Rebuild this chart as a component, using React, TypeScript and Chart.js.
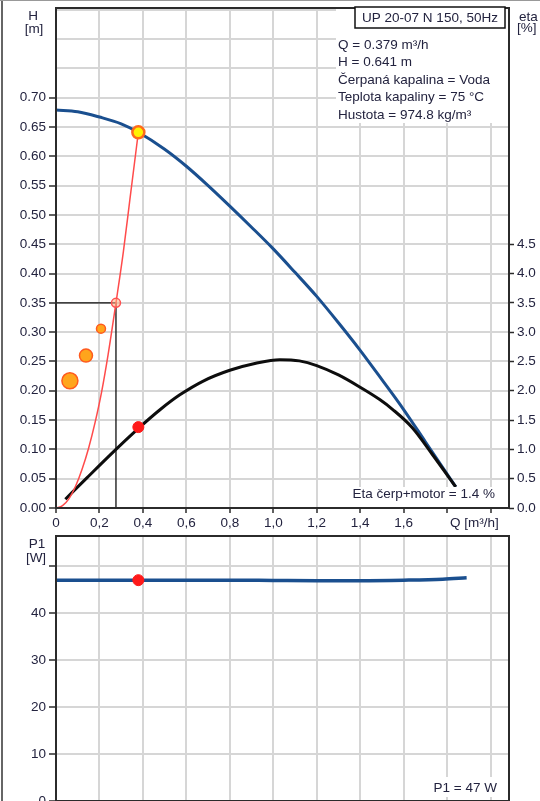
import React, { useEffect, useRef } from 'react';
import { Chart, registerables } from 'chart.js';

Chart.register(...registerables);

// ---------------- data ----------------
const pumpQ = [0, 0.1, 0.2, 0.3, 0.379, 0.5, 0.6, 0.7, 0.8, 0.9, 1.0, 1.1, 1.2, 1.3, 1.4, 1.5, 1.6, 1.7, 1.84];
const pumpH = [0.679, 0.676, 0.667, 0.6555, 0.641, 0.612, 0.583, 0.55, 0.515, 0.479, 0.442, 0.402, 0.361, 0.316, 0.269, 0.219, 0.168, 0.113, 0.036];

const etaQ = [0.043, 0.141, 0.276, 0.377, 0.48, 0.57, 0.68, 0.8, 0.92, 1.03, 1.12, 1.2, 1.3, 1.4, 1.49, 1.55, 1.64, 1.735, 1.84];
const etaPct = [0.15, 0.51, 1.0, 1.35, 1.68, 1.93, 2.17, 2.35, 2.47, 2.53, 2.51, 2.43, 2.27, 2.06, 1.85, 1.68, 1.37, 0.9, 0.36];

const sysQ = [0, 0.03, 0.06, 0.09, 0.12, 0.15, 0.18, 0.21, 0.24, 0.276, 0.31, 0.34, 0.379];
const sysH = [0, 0.004, 0.016, 0.037, 0.066, 0.102, 0.146, 0.198, 0.262, 0.35, 0.437, 0.526, 0.641];

const bubbleQ = [0.064, 0.138, 0.207, 0.276];
const bubbleH = [0.217, 0.26, 0.306, 0.35];

const dutyQ = 0.379;
const dutyH = 0.641;
const dutyEta = 1.38;
const dutyP1 = 47;
const readQ = 0.276;
const readH = 0.35;

const p1Q = [0, 0.4, 0.8, 1.0, 1.2, 1.4, 1.6, 1.78, 1.89];
const p1W = [47, 47, 47, 46.95, 46.9, 46.9, 47.0, 47.2, 47.5];

const qMax = 2.085;
const qStep = 0.2;
const qLabelMax = 1.6;
const hMax = 0.853;
const hStep = 0.05;
const hLabelMax = 0.7;
const etaMax = 8.53;
const etaStep = 0.5;
const etaLabelMax = 4.5;
const p1Max = 56.4;
const p1Step = 10;
const p1LabelMax = 40;

const modelLabel = 'UP 20-07 N 150, 50Hz';
const infoLines = [
  'Q = 0.379 m³/h',
  'H = 0.641 m',
  'Čerpaná kapalina = Voda',
  'Teplota kapaliny = 75 °C',
  'Hustota = 974.8 kg/m³',
];
const effLabel = 'Eta čerp+motor = 1.4 %';
const powerLabel = 'P1 = 47 W';
const qAxisLabel = 'Q [m³/h]';
const hAxisLabel = ['H', '[m]'];
const etaAxisLabel = ['eta', '[%]'];
const p1AxisLabel = ['P1', '[W]'];

// ---------------- style ----------------
const FAMILY = '"Liberation Sans", Arial, sans-serif';
const TEXT = '#23233f';
const GRID = '#d6d6d6';
const AXIS = '#2b2b2b';
const BLUE = '#1a4f8f';
const tickFont = { family: FAMILY, size: 13.5 };

const pts = (xs: number[], ys: number[]) => xs.map((x, i) => ({ x, y: ys[i] }));

const zeroPad = (s: any) => {
  s.paddingTop = 0;
  s.paddingBottom = 0;
  s.paddingLeft = 0;
  s.paddingRight = 0;
};

function frame(chart: any) {
  const { ctx, chartArea: a } = chart;
  ctx.save();
  ctx.strokeStyle = AXIS;
  ctx.lineWidth = 2;
  ctx.strokeRect(a.left, a.top, a.right - a.left, a.bottom - a.top);
  ctx.restore();
}

const topDecor = {
  id: 'topDecor',
  afterDraw(chart: any) {
    const { ctx, chartArea: a } = chart;
    ctx.save();
    ctx.font = `13.5px ${FAMILY}`;
    ctx.fillStyle = '#fff';
    ctx.fillRect(a.right - 173, a.top + 1, 172, 114);
    const ew = ctx.measureText(effLabel).width;
    ctx.fillRect(a.right - 14 - ew - 3, a.bottom - 21, ew + 6, 20);
    ctx.restore();

    frame(chart);

    ctx.save();
    ctx.font = `13.5px ${FAMILY}`;
    const bw = 150;
    const bh = 21;
    const bx = a.right - 4 - bw;
    const by = a.top - 1;
    ctx.fillStyle = '#fff';
    ctx.fillRect(bx, by, bw, bh);
    ctx.strokeStyle = '#111';
    ctx.lineWidth = 1.5;
    ctx.strokeRect(bx, by, bw, bh);
    ctx.fillStyle = TEXT;
    ctx.textAlign = 'center';
    ctx.textBaseline = 'middle';
    ctx.fillText(modelLabel, bx + bw / 2, by + bh / 2 + 1);

    ctx.textAlign = 'left';
    infoLines.forEach((t, i) => ctx.fillText(t, a.right - 171, a.top + 37 + i * 17.5));

    ctx.textAlign = 'right';
    ctx.textBaseline = 'alphabetic';
    ctx.fillText(effLabel, a.right - 14, a.bottom - 10);

    ctx.textAlign = 'center';
    ctx.textBaseline = 'middle';
    ctx.fillText(hAxisLabel[0], 33, a.top + 8);
    ctx.fillText(hAxisLabel[1], 34, a.top + 21);
    ctx.textAlign = 'left';
    ctx.fillText(etaAxisLabel[0], a.right + 10, a.top + 9);
    ctx.fillText(etaAxisLabel[1], a.right + 8, a.top + 20);

    const xs = chart.scales.x;
    ctx.fillText(qAxisLabel, xs.getPixelForValue(1.8) + 3, a.bottom + 15);
    ctx.restore();
  },
};

const botDecor = {
  id: 'botDecor',
  afterDraw(chart: any) {
    const { ctx, chartArea: a } = chart;
    ctx.save();
    ctx.font = `13.5px ${FAMILY}`;
    const pw = ctx.measureText(powerLabel).width;
    ctx.fillStyle = '#fff';
    ctx.fillRect(a.right - 12 - pw - 3, a.bottom - 24, pw + 6, 20);
    ctx.restore();
    frame(chart);
    ctx.save();
    ctx.font = `13.5px ${FAMILY}`;
    ctx.fillStyle = TEXT;
    ctx.textAlign = 'right';
    ctx.textBaseline = 'alphabetic';
    ctx.fillText(powerLabel, a.right - 12, a.bottom - 9);
    ctx.textAlign = 'center';
    ctx.textBaseline = 'middle';
    ctx.fillText(p1AxisLabel[0], 37, a.top + 8);
    ctx.fillText(p1AxisLabel[1], 36, a.top + 22);
    ctx.restore();
  },
};

const qFormat = (v: number) => (v > qLabelMax + 1e-6 ? '' : v === 0 ? '0' : Number(v).toFixed(1).replace('.', ','));

export default function App() {
  const topRef = useRef<HTMLCanvasElement>(null);
  const botRef = useRef<HTMLCanvasElement>(null);

  useEffect(() => {
    const top = new Chart(topRef.current as HTMLCanvasElement, {
      type: 'scatter',
      data: {
        datasets: [
          {
            data: [
              { x: 0, y: readH },
              { x: readQ, y: readH },
              { x: readQ, y: 0 },
            ],
            showLine: true,
            borderColor: '#111',
            borderWidth: 1.3,
            pointRadius: 0,
            tension: 0,
            yAxisID: 'y',
            order: 9,
          } as any,
          {
            data: pts(pumpQ, pumpH),
            showLine: true,
            borderColor: BLUE,
            borderWidth: 3,
            pointRadius: 0,
            cubicInterpolationMode: 'monotone',
            yAxisID: 'y',
            order: 8,
          },
          {
            data: pts(etaQ, etaPct),
            showLine: true,
            borderColor: '#0d0d0d',
            borderWidth: 3,
            pointRadius: 0,
            cubicInterpolationMode: 'monotone',
            yAxisID: 'y2',
            order: 7,
          },
          {
            data: pts(sysQ, sysH),
            showLine: true,
            borderColor: '#ff4b4b',
            borderWidth: 1.5,
            pointRadius: 0,
            cubicInterpolationMode: 'monotone',
            yAxisID: 'y',
            order: 6,
          },
          {
            data: pts(bubbleQ, bubbleH),
            showLine: false,
            pointRadius: [8, 6.5, 4.5, 4.5],
            backgroundColor: ['#ffa51c', '#ffa51c', '#ffa51c', 'rgba(255,175,130,0.55)'],
            borderColor: ['#ff5a1e', '#ff5a1e', '#ff5a1e', '#ff5050'],
            borderWidth: 1.5,
            yAxisID: 'y',
            order: 3,
          },
          {
            data: [{ x: dutyQ, y: dutyH }],
            showLine: false,
            pointRadius: 6,
            backgroundColor: '#fff200',
            borderColor: '#ff6a1a',
            borderWidth: 2.5,
            yAxisID: 'y',
            order: 1,
          },
          {
            data: [{ x: dutyQ, y: dutyEta }],
            showLine: false,
            pointRadius: 5.5,
            backgroundColor: '#ff1a1a',
            borderColor: '#ff1a1a',
            borderWidth: 1,
            yAxisID: 'y2',
            order: 1,
          },
        ],
      },
      options: {
        responsive: false,
        animation: false,
        layout: { autoPadding: false, padding: { top: 8, left: 0, right: 0, bottom: 0 } },
        plugins: { legend: { display: false }, tooltip: { enabled: false } },
        scales: {
          x: {
            type: 'linear',
            min: 0,
            max: qMax,
            ticks: {
              stepSize: qStep,
              autoSkip: false,
              maxRotation: 0,
              includeBounds: false,
              color: TEXT,
              font: tickFont,
              padding: 2,
              callback: (v: any) => qFormat(Number(v)),
            },
            grid: { color: GRID, lineWidth: 2, tickColor: AXIS, tickLength: 5, tickWidth: 1.5 },
            border: { display: false },
            afterFit: (s: any) => {
              s.height = 22;
              zeroPad(s);
            },
          },
          y: {
            type: 'linear',
            min: 0,
            max: hMax,
            ticks: {
              stepSize: hStep,
              autoSkip: false,
              includeBounds: false,
              color: TEXT,
              font: tickFont,
              padding: 3,
              callback: (v: any) => (Number(v) <= hLabelMax + 1e-6 ? Number(v).toFixed(2) : ''),
            },
            grid: {
              color: GRID,
              lineWidth: 2,
              tickLength: 7,
              tickWidth: 1.5,
              tickColor: (c: any) => (c.tick && c.tick.value <= hLabelMax + 1e-6 ? AXIS : 'rgba(0,0,0,0)'),
            },
            border: { display: false },
            afterFit: (s: any) => {
              s.width = 56;
              zeroPad(s);
            },
          },
          y2: {
            type: 'linear',
            position: 'right',
            min: 0,
            max: etaMax,
            ticks: {
              stepSize: etaStep,
              autoSkip: false,
              includeBounds: false,
              color: TEXT,
              font: tickFont,
              padding: 3,
              callback: (v: any) => (Number(v) <= etaLabelMax + 1e-6 ? Number(v).toFixed(1) : ''),
            },
            grid: {
              drawOnChartArea: false,
              tickLength: 5,
              tickWidth: 1.5,
              tickColor: (c: any) => (c.tick && c.tick.value <= etaLabelMax + 1e-6 ? AXIS : 'rgba(0,0,0,0)'),
            },
            border: { display: false },
            afterFit: (s: any) => {
              s.width = 31;
              zeroPad(s);
            },
          },
        },
      } as any,
      plugins: [topDecor],
    });

    const bot = new Chart(botRef.current as HTMLCanvasElement, {
      type: 'scatter',
      data: {
        datasets: [
          {
            data: pts(p1Q, p1W),
            showLine: true,
            borderColor: BLUE,
            borderWidth: 3.5,
            pointRadius: 0,
            cubicInterpolationMode: 'monotone',
            order: 5,
          },
          {
            data: [{ x: dutyQ, y: dutyP1 }],
            showLine: false,
            pointRadius: 5.5,
            backgroundColor: '#ff1a1a',
            borderColor: '#ff1a1a',
            borderWidth: 1,
            order: 1,
          },
        ],
      },
      options: {
        responsive: false,
        animation: false,
        layout: { autoPadding: false, padding: { top: 6, left: 0, right: 31, bottom: 0 } },
        plugins: { legend: { display: false }, tooltip: { enabled: false } },
        scales: {
          x: {
            type: 'linear',
            min: 0,
            max: qMax,
            ticks: { display: false, stepSize: qStep, autoSkip: false, includeBounds: false },
            grid: { color: GRID, lineWidth: 2, drawTicks: false },
            border: { display: false },
            afterFit: (s: any) => {
              s.height = 0;
              zeroPad(s);
            },
          },
          y: {
            type: 'linear',
            min: 0,
            max: p1Max,
            ticks: {
              stepSize: p1Step,
              autoSkip: false,
              includeBounds: false,
              color: TEXT,
              font: tickFont,
              padding: 3,
              callback: (v: any) => (Number(v) <= p1LabelMax + 1e-6 ? String(v) : ''),
            },
            grid: { color: GRID, lineWidth: 2, tickColor: AXIS, tickLength: 7, tickWidth: 1.5 },
            border: { display: false },
            afterFit: (s: any) => {
              s.width = 56;
              zeroPad(s);
            },
          },
        },
      } as any,
      plugins: [botDecor],
    });

    return () => {
      top.destroy();
      bot.destroy();
    };
  }, []);

  return (
    <div
      style={{
        position: 'absolute',
        left: 0,
        top: 0,
        width: 540,
        height: 801,
        background: '#fff',
        overflow: 'hidden',
      }}
    >
      <canvas ref={topRef} width={540} height={530} style={{ position: 'absolute', left: 0, top: 0, width: 540, height: 530 }} />
      <canvas ref={botRef} width={540} height={271} style={{ position: 'absolute', left: 0, top: 530, width: 540, height: 271 }} />
      <div style={{ position: 'absolute', left: 1, top: 0, width: 2, height: 801, background: '#666' }} />
      <div style={{ position: 'absolute', left: 0, top: 0, width: 540, height: 1, background: '#999' }} />
    </div>
  );
}
